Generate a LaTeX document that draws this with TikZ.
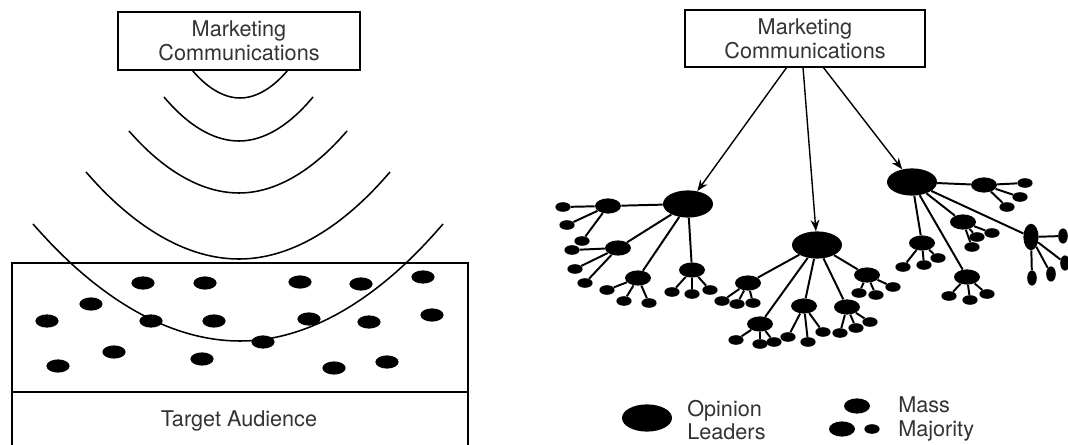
\documentclass[tikz,border=0pt]{standalone}
\usepackage{fontspec}
\setmainfont{TeX Gyre Heros}
\usepackage{tikz}
\usetikzlibrary{arrows.meta,shapes.geometric}
\newcommand{\labfont}{\fontsize{15.4}{16.8}\selectfont}
\tikzset{
  mcbox/.style={rectangle,draw,line width=1.1pt,minimum width=6.05cm,
    minimum height=1.45cm,align=center,inner sep=2pt,font=\labfont,
    text=black!80},
  lab/.style={font=\labfont,text=black!80,inner sep=0pt},
  % audience members on the left, network nodes on the right
  aud/.style={ellipse,fill=black,inner sep=0pt,minimum width=0.58cm,
    minimum height=0.33cm},
  leader/.style={ellipse,fill=black,inner sep=0pt,minimum width=1.25cm,
    minimum height=0.68cm},
  mass/.style={ellipse,fill=black,inner sep=0pt,minimum width=0.65cm,
    minimum height=0.38cm},
  vmass/.style={mass,minimum width=0.38cm,minimum height=0.66cm},
  leaf/.style={ellipse,fill=black,inner sep=0pt,minimum width=0.38cm,
    minimum height=0.24cm},
  vleaf/.style={leaf,minimum width=0.24cm,minimum height=0.38cm},
  link/.style={line width=1.4pt},
  wave/.style={line width=1.1pt},
  arr/.style={-{Stealth[length=2.8mm,width=2.2mm]},line width=1pt}
}

\begin{document}
\begin{tikzpicture}[x=0.025cm,y=-0.025cm]
  \useasboundingbox (0,0) rectangle (1068,445);

  % ---- one-step flow: waves spreading over the audience
  \node[mcbox] (mcL) at (239,41) {Marketing\\Communications};
  \draw[wave] (192,70) parabola bend (240,98) (288,70);
  \draw[wave] (164,97) parabola bend (239,141) (313,97);
  \draw[wave] (129,131) parabola bend (239,193) (347,131);
  \draw[wave] (86,172) parabola bend (239,259) (390,172);
  \draw[wave] (33,224) parabola bend (240,341) (443,224);

  \draw[wave] (12,445) -- (12,263) -- (468,263) -- (468,445);
  \draw[wave] (12,392) -- (468,392);
  \node[lab] (ta) at (239,421) {Target Audience};

  \foreach \x/\y [count=\i] in {143/283,205/283,300/282,361/284,423/277,
      91/304,47/321,151/321,214/321,309/319,369/322,432/315,263/342,
      114/352,58/366,202/359,334/368,387/362}
    \node[aud] (d\i) at (\x,\y) {};

  % ---- two-step flow through opinion leaders
  \node[mcbox,minimum width=6cm,minimum height=1.43cm] (mcR) at (805,38.5)
    {Marketing\\Communications};
  \coordinate (s1) at (787,67);
  \coordinate (s2) at (803,67);
  \coordinate (s3) at (823,67);

  \node[leader] (lA) at (688,204) {};
  \node[leader] (lB) at (817,245) {};
  \node[leader] (lC) at (912,182) {};

  \draw[arr] (s1) -- (lA);
  \draw[arr] (s2) -- (lB);
  \draw[arr] (s3) -- (lC);

  \foreach \n/\p/\kids in {
      mA1/{608,206}/{563/207,567/225,582/241},
      mA2/{618,248}/{572/250,575/269,585/283},
      mA3/{638,278}/{607/290,624/301,649/303},
      mA4/{692,270}/{672/292,692/294,710/290},
      mB1/{748,283}/{722/301,737/304,753/303},
      mB2/{760,324}/{736/340,760/344,774/342},
      mB3/{804,306}/{788/337,808/342,823/332},
      mB4/{847,307}/{840/333,856/328,870/322},
      mB5/{867,275}/{859/293,876/295,893/287},
      mC1/{984,185}/{1025/183,1020/197,1007/207},
      mC2/{963,222}/{992/233,977/237,972/247},
      mC4/{922,243}/{903/267,924/265,938/258},
      mC5/{967,277}/{949/296,970/300,987/294}}{
    \node[mass] (\n) at (\p) {};
    \foreach \kx/\ky [count=\k] in \kids {
      \node[leaf] (\n-\k) at (\kx,\ky) {};
      \draw[link] (\n) -- (\n-\k);
    }
  }

  \node[vmass] (mC3) at (1031,237) {};
  \foreach \kx/\ky [count=\k] in {1063/236,1065/263,1051/274,1032/278} {
    \node[vleaf] (mC3-\k) at (\kx,\ky) {};
    \draw[link] (mC3) -- (mC3-\k);
  }

  \foreach \a/\b in {lA/mA1,lA/mA2,lA/mA3,lA/mA4,
      lB/mB1,lB/mB2,lB/mB3,lB/mB4,lB/mB5,
      lC/mC1,lC/mC2,lC/mC3,lC/mC4,lC/mC5}
    \draw[link] (\a) -- (\b);

  % ---- key
  \node[leader] (kl) at (647,418) {};
  \node[lab,anchor=west,align=left] (kltxt) at (687,420) {Opinion\\Leaders};
  \node[mass] (km1) at (857,406) {};
  \node[mass] (km2) at (842,429) {};
  \node[leaf] (km3) at (872,429) {};
  \node[lab,anchor=west,align=left] (kmtxt) at (898,419) {Mass\\Majority};
\end{tikzpicture}
\end{document}
